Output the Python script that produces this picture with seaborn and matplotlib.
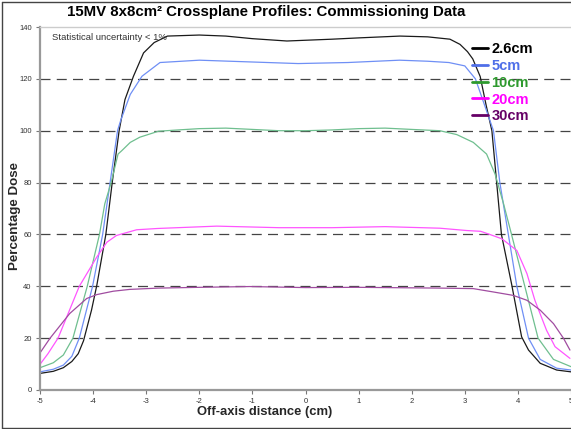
import numpy as np
import pandas as pd
import matplotlib
matplotlib.use("Agg")
import matplotlib.pyplot as plt
import seaborn as sns
from matplotlib.lines import Line2D

# ---------------- data ----------------
labels = ["2.6cm", "5cm", "10cm", "20cm", "30cm"]

x_26 = [-5, -4.75, -4.56, -4.4, -4.28, -4.18, -4.03, -3.93, -3.76, -3.64, -3.51, -3.40, -3.24, -3.05, -2.85,
        -2.6, -2.0, -1.5, -1.0, -0.35, 0.5, 1.0, 1.78, 2.3, 2.72, 2.91, 3.05, 3.15, 3.29, 3.40, 3.51,
        3.60, 3.69, 3.88, 4.07, 4.2, 4.42, 4.73, 5.0]
y_26 = [6.4, 7.2, 8.6, 11.0, 14.0, 19, 30.8, 40.4, 60, 80, 100, 112, 121, 130, 134,
        136.5, 136.9, 136.5, 135.5, 134.6, 135.3, 135.8, 136.5, 136.2, 135.3, 133.3, 130.5, 127.7, 120.9, 110, 100,
        80, 60, 41, 20.5, 15.4, 10.3, 7.7, 7.0]

x_5 = [-5, -4.75, -4.56, -4.4, -4.26, -4.01, -3.82, -3.68, -3.54, -3.48, -3.3, -3.08, -2.74, -2.0,
       -1.0, -0.14, 0.8, 1.77, 2.3, 2.7, 3.0, 3.2, 3.37, 3.54, 3.66, 3.82, 3.98, 4.2, 4.42, 4.73, 5.0]
y_5 = [7.0, 8.0, 9.6, 13, 20, 40, 60, 80, 100, 104, 114, 121, 126.3, 127.2,
       126.5, 125.9, 126.3, 127.2, 126.8, 126.3, 125, 120, 110, 100, 80, 60, 40, 20, 11.8, 8.4, 7.7]

x_10 = [-5, -4.75, -4.56, -4.38, -4.11, -3.88, -3.78, -3.66, -3.53, -3.46, -3.3, -3.12, -2.77, -2.4,
        -2.0, -1.5, -1.0, -0.5, 0, 0.5, 1.0, 1.5, 2.0, 2.53, 2.85, 3.16, 3.41, 3.57, 3.73, 3.88,
        4.13, 4.38, 4.67, 5.0]
y_10 = [8.6, 10.5, 13.5, 20, 40, 60, 71.8, 80, 91, 92.3, 95.5, 97.5, 99.8, 100.3,
        100.8, 101, 100.5, 100, 100, 100.3, 100.8, 101, 100.5, 100, 98.5, 95.5, 91, 83.3, 71.8, 60,
        40, 20, 11.8, 9.0]

x_20 = [-5, -4.85, -4.66, -4.26, -3.93, -3.74, -3.56, -3.18, -2.78, -1.67, -0.5, 0.5, 1.5, 2.53,
        3.04, 3.3, 3.47, 3.7, 3.98, 4.17, 4.32, 4.54, 4.7, 4.98]
y_20 = [9.9, 14, 20, 40, 51.3, 57, 59.6, 61.8, 62.3, 63.2, 62.6, 62.6, 63, 62.4,
        61.5, 61.2, 60, 58.3, 53.8, 44.9, 34.6, 23, 16.7, 12.2]

x_30 = [-5, -4.81, -4.44, -4.12, -3.93, -3.62, -3.31, -2.77, -2.0, -1.05, 0, 1.0, 2.0, 2.53,
        3.16, 3.54, 3.91, 4.17, 4.42, 4.67, 4.86, 4.98]
y_30 = [14.3, 20, 29.5, 35.3, 36.8, 38.1, 38.8, 39.3, 39.6, 39.9, 39.5, 39.6, 39.4, 39.3,
        39.1, 37.8, 36.5, 34.6, 30.8, 25.6, 19.9, 15.4]

xs = [x_26, x_5, x_10, x_20, x_30]
ys = [y_26, y_5, y_10, y_20, y_30]

line_colors = ["#1a1a1a", "#6f8ff5", "#6fbf8f", "#ff55ff", "#a04ca0"]
text_colors = ["#000000", "#4f6fe8", "#2e9a2e", "#ff00ff", "#660066"]
handle_colors = ["#000000", "#4f6fe8", "#2e9a2e", "#ff00ff", "#660066"]

y_ticks = [0, 20, 40, 60, 80, 100, 120, 140]
x_ticks = [-5, -4, -3, -2, -1, 0, 1, 2, 3, 4, 5]

df = pd.concat([pd.DataFrame({"x": x, "y": y, "depth": lab}) for x, y, lab in zip(xs, ys, labels)],
               ignore_index=True)

# ---------------- plot ----------------
sns.set_theme(style="white")
plt.rcParams["font.family"] = ["Liberation Sans", "DejaVu Sans"]

W, H = 571, 429
fig = plt.figure(figsize=(W / 100, H / 100), dpi=100)
ax = fig.add_axes([40 / W, 1 - 390 / H, (571 - 40) / W, (390 - 27) / H])

sns.lineplot(data=df, x="x", y="y", hue="depth", palette=dict(zip(labels, line_colors)),
             estimator=None, sort=False, linewidth=0.9, ax=ax, legend=False)

ax.set_xlim(-5, 5)
ax.set_ylim(0, 140)
ax.set_xticks(x_ticks)
ax.set_yticks(y_ticks)
ax.set_xticklabels([str(t) for t in x_ticks])
ax.set_yticklabels([str(t) for t in y_ticks])
ax.tick_params(axis="both", labelsize=5.5, labelcolor="#333333", length=3, width=0.8,
               color="#777777", direction="out", pad=3)
ax.tick_params(axis="x", bottom=True)
ax.tick_params(axis="y", left=True)
ax.set_xlabel("")
ax.set_ylabel("")

for gy in [20, 40, 60, 80, 100, 120]:
    ax.axhline(gy, color="#444444", linewidth=0.9, linestyle=(0, (8, 5)), zorder=0.5)

for side in ["left", "bottom"]:
    ax.spines[side].set_visible(True)
    ax.spines[side].set_color("#999999")
    ax.spines[side].set_linewidth(1.6)
ax.spines["top"].set_visible(True)
ax.spines["top"].set_color("#cccccc")
ax.spines["top"].set_linewidth(1.0)
ax.spines["right"].set_visible(False)

fig.text(52 / W, 1 - 38 / H, "Statistical uncertainty < 1%", fontsize=6.8, color="#333333",
         va="center", ha="left")

handles = [Line2D([0], [0], color=c, linewidth=2) for c in handle_colors]
leg = ax.legend(handles, labels, loc="upper left", bbox_to_anchor=(466 / W, 1 - 36 / H),
                bbox_transform=fig.transFigure, frameon=False, handlelength=1.1,
                handletextpad=0.25, labelspacing=0.2, borderaxespad=0,
                prop={"weight": "bold", "size": 10.5})
for t, c in zip(leg.get_texts(), text_colors):
    t.set_color(c)

fig.text(266 / W, 1 - 12 / H, "15MV 8x8cm² Crossplane Profiles: Commissioning Data",
         ha="center", va="center", fontsize=10.8, fontweight="bold", color="#000000")
fig.text(265 / W, 1 - 412 / H, "Off-axis distance (cm)", ha="center", va="center",
         fontsize=9.4, fontweight="bold")
fig.text(15 / W, 1 - 216 / H, "Percentage Dose", ha="center", va="center", rotation=90,
         fontsize=9.6, fontweight="bold")

# figure border (left, top, bottom)
fig.add_artist(Line2D([1.5 / W, 1.5 / W], [1.5 / H, 1 - 1.5 / H], transform=fig.transFigure,
                      color="#444444", linewidth=1.0))
fig.add_artist(Line2D([1.5 / W, 1], [1.5 / H, 1.5 / H], transform=fig.transFigure,
                      color="#444444", linewidth=1.0))
fig.add_artist(Line2D([1.5 / W, 1], [1 - 1.5 / H, 1 - 1.5 / H], transform=fig.transFigure,
                      color="#444444", linewidth=1.0))

fig.savefig("out.png", dpi=100)
